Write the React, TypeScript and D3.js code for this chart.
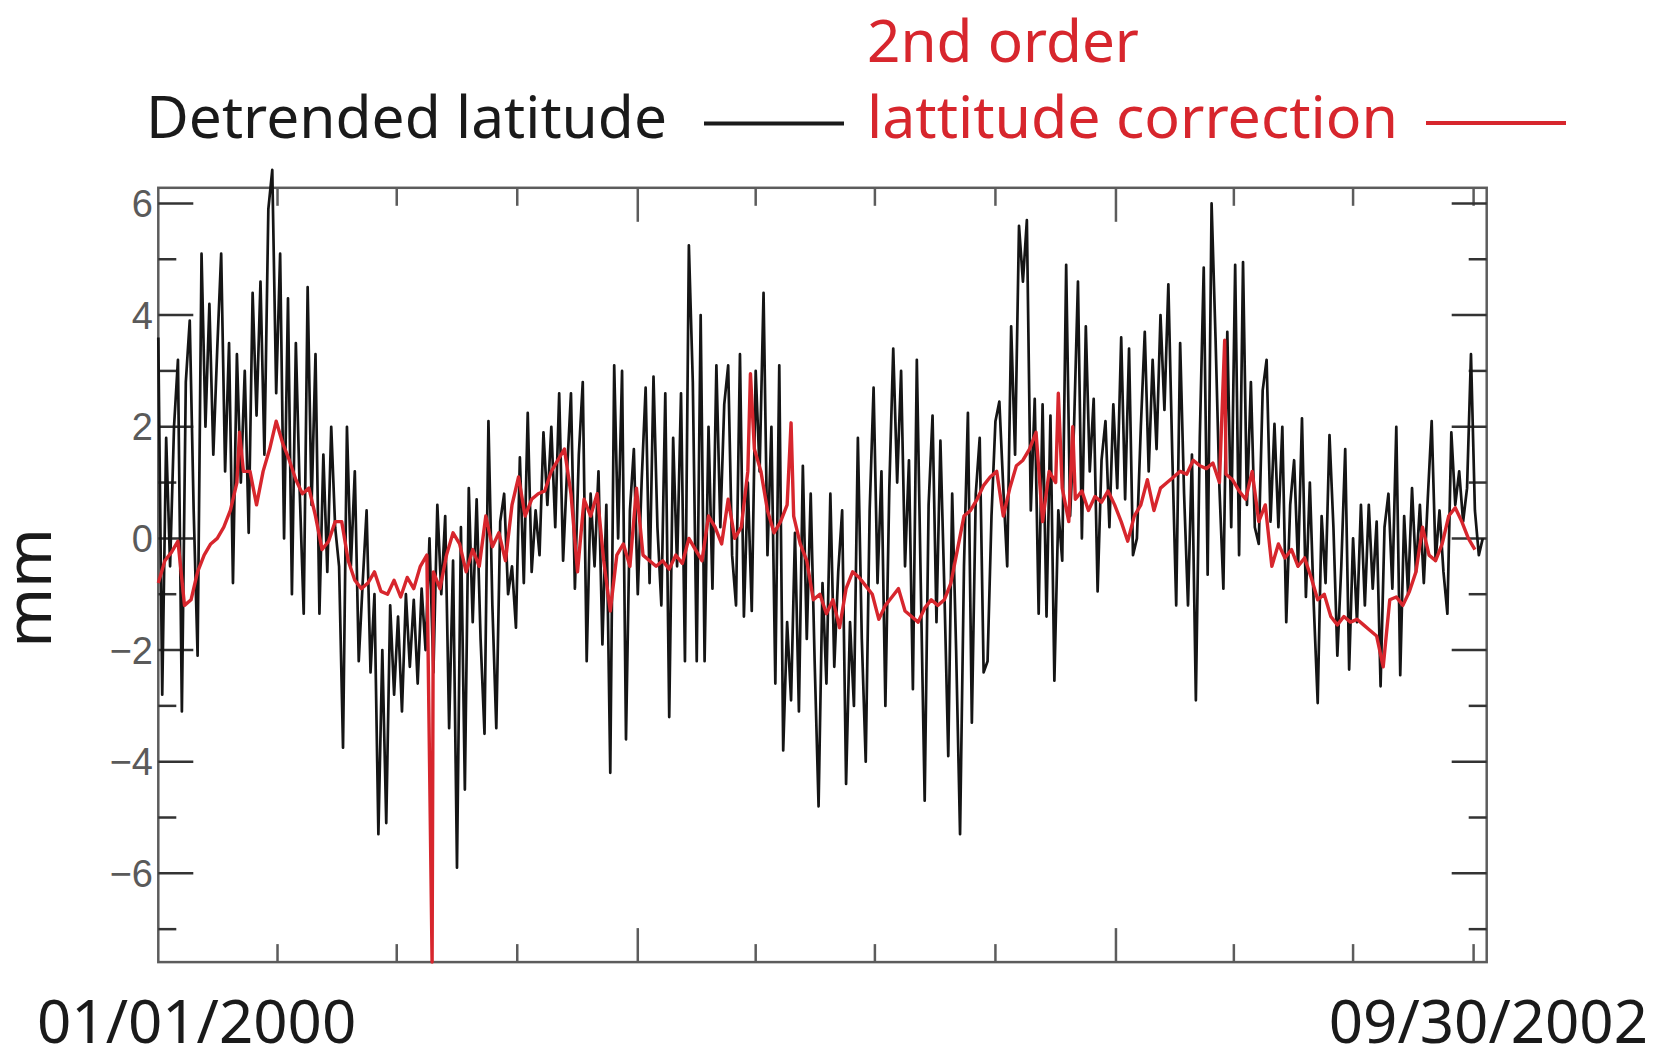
import React from 'react';
import * as d3 from 'd3';

// detrended latitude, one reading every 3 days starting 01/01/2000 (mm)
const blackValues = [
  3.6, -2.8, 1.8, -0.5, 2.0, 3.2, -3.1, 2.8, 3.9, 0.5,
  -2.1, 5.1, 2.0, 4.2, 1.5, 3.4, 5.1, 1.2, 3.5, -0.8,
  3.3, 1.0, 3.0, 0.1, 4.4, 2.2, 4.6, 1.5, 5.9, 6.6,
  2.6, 5.1, 0.0, 4.3, -1.0, 3.5, 0.8, -1.35, 4.5, 0.6,
  3.3, -1.35, 1.5, -0.6, 2.0, 0.2, -0.5, -3.75, 2.0, -0.5,
  1.2, -2.2, -0.8, 0.5, -2.4, -1.0, -5.3, -2.0, -5.1, -1.2,
  -2.8, -1.4, -3.1, -1.0, -2.3, -1.1, -2.6, -0.9, -2.0, 0.0,
  // 2000, second half
  -2.4, 0.6, -1.0, 0.4, -3.4, -0.4, -5.9, 0.2, -4.5, 0.9,
  -1.5, 0.7, -1.8, -3.5, 2.1, -1.2, -3.4, 0.3, 0.8, -1.0,
  -0.5, -1.6, 1.45, -0.8, 2.25, -0.6, 0.5, -0.3, 1.9, 0.6,
  2.0, 0.2, 2.6, -0.4, 1.2, 2.6, -0.9, 1.5, 2.8, -2.2,
  0.8, -0.5, 1.2, -1.9, 0.6, -4.2, 3.1, 0.0, 3.0, -3.6,
  0.5, 1.6, -1.0, 1.05, 2.7, -0.8, 2.9, 0.2, -1.2, 2.6,
  -3.2, 1.8, -0.5, 2.6, -2.2, 5.25, 2.8, -2.2,
  // 2001
  4.0, -2.2, 2.0, -0.9, 3.1, 0.2, 2.4, 3.1, -0.3, -1.2,
  3.3, -1.4, 1.0, -1.3, 3.0, 1.2, 4.4, -0.3, 2.0, -2.6,
  3.1, -3.8, -1.5, -2.9, 0.1, -3.1, 1.3, -1.8, 0.8, -2.2,
  -4.8, -0.8, -2.6, 0.8, -2.3, -0.6, 0.5, -4.4, -1.5, -3.0,
  1.8, -1.8, -4.0, 0.5, 2.7, -0.8, 1.2, -3.0, 0.9, 3.4,
  1.0, 3.0, -0.5, 1.4, -2.7, 3.2, -0.8, -4.7, 0.6, 2.2,
  -1.5, 1.75, -0.9, -3.9, 0.8, -2.0, -5.3, -0.5, 2.25,
  // late 2001 - 2002
  -3.3, 0.8, 1.8, -2.4, -2.2, 0.4, 2.1, 2.45, 0.9, -0.5,
  3.8, 1.5, 5.6, 4.6, 5.7, 0.5, 2.5, -1.35, 2.4, -1.4,
  2.2, -2.55, 0.5, -0.4, 4.9, 0.4, 2.0, 4.6, 0.0, 3.8,
  1.2, 2.5, -0.95, 1.4, 2.1, 0.2, 2.4, 0.9, 3.6, 0.7,
  3.4, -0.3, 0.0, 2.0, 3.7, 1.2, 3.2, 1.6, 4.0, 2.3,
  4.55, 1.5, -1.2, 3.5, 0.8, -1.2, 1.5, -2.9, 1.8, 4.85,
  -0.65, 6.0, 3.6, 0.9, -0.9, 3.7, 0.2, 4.9, -0.3,
  4.95, 0.6, 2.8, 0.2, -0.1, 2.65, 3.2, 0.3, 2.05, 0.2,
  2.0, -1.5, 0.6, 1.4, -0.5, 2.15, -1.05, 1.0, -1.2, -2.95,
  0.4, -0.8, 1.85, 0.2, -2.1, -0.5, 1.6, -2.35, 0.0, -1.5,
  0.6, -1.2, 0.6, -0.9, 0.3, -2.65, 0.2, 0.8, -0.9, 2.0,
  -2.45, 0.4, -1.0, 0.9, -0.6, 0.6, -0.8, 0.7, 2.1, -0.4,
  0.5, -0.6, -1.35, 1.9, 0.6, 1.2, 0.3, 0.9, 3.3, 0.5,
  -0.3, 0.0,
];

// 2nd order latitude correction, one reading every 5 days (mm)
const redValues = [
  -0.8, -0.4, -0.25, -0.05, -1.2, -1.1, -0.6, -0.3, -0.1, 0.0,
  0.2, 0.5, 1.0, 1.2, 1.2, 0.6, 1.2, 1.6, 2.1, 1.7,
  1.4, 1.05, 0.8, 0.9, 0.4, -0.2, -0.05, 0.3, 0.3, -0.4,
  -0.75, -0.9, -0.8, -0.6, -0.95, -1.0, -0.75, -1.05, -0.7, -0.9,
  -0.5, -0.3,
  -0.6, -0.9, -0.3, 0.1, -0.1, -0.6, -0.2, -0.5, 0.4, -0.15,
  0.1, -0.4, 0.6, 1.1, 0.4, 0.7, 0.8, 0.85, 1.2, 1.4,
  1.6, 0.8, -0.6, 0.7, 0.4, 0.8, -0.4, -1.3, -0.3, -0.1,
  -0.5, 0.9, -0.3, -0.4, -0.5, -0.4, -0.55, -0.3, -0.45, 0.0,
  -0.2,
  -0.4, 0.4, 0.2, -0.1, 0.7, 0.0, 0.2, 1.2, 1.6, 1.2,
  0.5, 0.1, 0.3, 0.6, 0.4, -0.1, -0.4, -1.1, -1.0, -1.35,
  -1.1, -1.6, -0.9, -0.6, -0.7, -0.85, -1.0, -1.45, -1.2, -1.05,
  -0.9, -1.3, -1.4, -1.5, -1.25, -1.1, -1.2, -1.1, -0.8, -0.2,
  0.4, 0.5,
  0.7, 0.95, 1.1, 1.2, 0.4, 0.9, 1.3, 1.4, 1.6, 1.9,
  0.3, 1.2, 1.0, 0.9, 0.3, 0.7, 0.85, 0.5, 0.75, 0.65,
  0.85, 0.6, 0.3, -0.05, 0.4, 0.6, 1.05, 0.5, 0.9, 1.0,
  1.1, 1.2, 1.15, 1.4, 1.3, 1.25, 1.35, 1.0, 1.15, 1.05,
  0.85,
  0.7, 1.2, 0.3, 0.6, -0.5, -0.1, -0.35, -0.2, -0.5, -0.35,
  -0.7, -1.1, -1.0, -1.4, -1.55, -1.4, -1.5, -1.45, -1.55, -1.65,
  -1.75, -2.3, -1.1, -1.05, -1.2, -0.95, -0.6, 0.2, -0.3, -0.4,
  -0.1, 0.4, 0.55, 0.3, 0.0, -0.2,
];

// single-day jumps in the correction: [day since 01/01/2000, mm]
const redSpikes = [
  [62, 1.9], [209, -7.59], [452, 2.95], [483, 2.07],
  [687, 2.6], [698, 2.0], [814, 3.55],
];

const yMajorTicks = [-6, -4, -2, 0, 2, 4, 6];
const yMinorTicks = [-7, -5, -3, -1, 1, 3, 5];
const startLabel = '01/01/2000';
const endLabel = '09/30/2002';

const W = 1654;
const H = 1050;
const DAY = 86400000;
const START = Date.UTC(2000, 0, 1);
const END = Date.UTC(2002, 9, 11);
const RED = '#d7262d';
const AXIS = '#5c5c5c';

const plot = { left: 158.3, right: 1486.7, top: 187.8, bottom: 962.1 };

export default function App() {
  const x = d3.scaleUtc().domain([new Date(START), new Date(END)]).range([plot.left, plot.right]);
  const y = d3.scaleLinear().domain([-7.59, 6.28]).range([plot.bottom, plot.top]);

  const black = blackValues.map((v, i) => ({ day: i * 3, v }));
  const red = redValues
    .map((v, i) => ({ day: i * 5, v }))
    .concat(redSpikes.map(([day, v]) => ({ day, v })))
    .sort((a, b) => a.day - b.day);

  const line = d3.line<{ day: number; v: number }>()
    .x(d => x(new Date(START + d.day * DAY)))
    .y(d => y(d.v));

  const xTicks = d3.utcMonth.every(3)!.range(new Date(START + 1), new Date(END));

  const sans = '"Noto Sans", "Open Sans", sans-serif';

  return (
    <svg width={W} height={H} style={{ position: 'absolute', left: 0, top: 0, background: '#fff' }}
      fontFamily={sans}>
      {/* legend / title */}
      <text x={146} y={138} fontSize={59} fill="#1a1a1a" textLength={521} lengthAdjust="spacingAndGlyphs">
        Detrended latitude
      </text>
      <line x1={704} x2={844} y1={123.5} y2={123.5} stroke="#1a1a1a" strokeWidth={4} />
      <text x={867} y={62} fontSize={59} fill={RED} textLength={272} lengthAdjust="spacingAndGlyphs">
        2nd order
      </text>
      <text x={867} y={138} fontSize={59} fill={RED} textLength={531} lengthAdjust="spacingAndGlyphs">
        lattitude correction
      </text>
      <line x1={1426} x2={1566} y1={123} y2={123} stroke={RED} strokeWidth={4} />

      {/* y axis label */}
      <text transform={`translate(51,588) rotate(-90)`} textAnchor="middle" fontSize={64} fill="#1a1a1a">
        mm
      </text>

      {/* frame */}
      <rect x={plot.left} y={plot.top} width={plot.right - plot.left} height={plot.bottom - plot.top}
        fill="none" stroke={AXIS} strokeWidth={2.5} />

      {/* x ticks, bottom and top */}
      {xTicks.map(t => {
        const px = x(t);
        const len = t.getUTCMonth() === 0 ? 34 : 18;
        return (
          <g key={t.getTime()} stroke={AXIS} strokeWidth={2.5}>
            <line x1={px} x2={px} y1={plot.bottom} y2={plot.bottom - len} />
            <line x1={px} x2={px} y1={plot.top} y2={plot.top + len} />
          </g>
        );
      })}

      {/* y ticks, left and right */}
      {yMajorTicks.concat(yMinorTicks).map(v => {
        const py = y(v);
        const len = yMajorTicks.includes(v) ? 35 : 18;
        return (
          <g key={v} stroke="#333" strokeWidth={2.5}>
            <line x1={plot.left} x2={plot.left + len} y1={py} y2={py} />
            <line x1={plot.right} x2={plot.right - len} y1={py} y2={py} />
          </g>
        );
      })}
      {yMajorTicks.map(v => (
        <text key={v} x={153} y={y(v)} dy="0.36em" textAnchor="end" fontSize={38}
          fontFamily='"Liberation Sans", Arial, sans-serif' fill="#5a5a5a">
          {v < 0 ? '\u2212' + Math.abs(v) : String(v)}
        </text>
      ))}

      {/* series */}
      <path d={line(black) ?? ''} fill="none" stroke="#151515" strokeWidth={2.7} strokeLinejoin="round" />
      <path d={line(red) ?? ''} fill="none" stroke={RED} strokeWidth={3.4} strokeLinejoin="round" />

      {/* date labels */}
      <text x={37} y={1043} fontSize={60} fill="#1a1a1a">{startLabel}</text>
      <text x={1648} y={1043} fontSize={60} fill="#1a1a1a" textAnchor="end">{endLabel}</text>
    </svg>
  );
}
